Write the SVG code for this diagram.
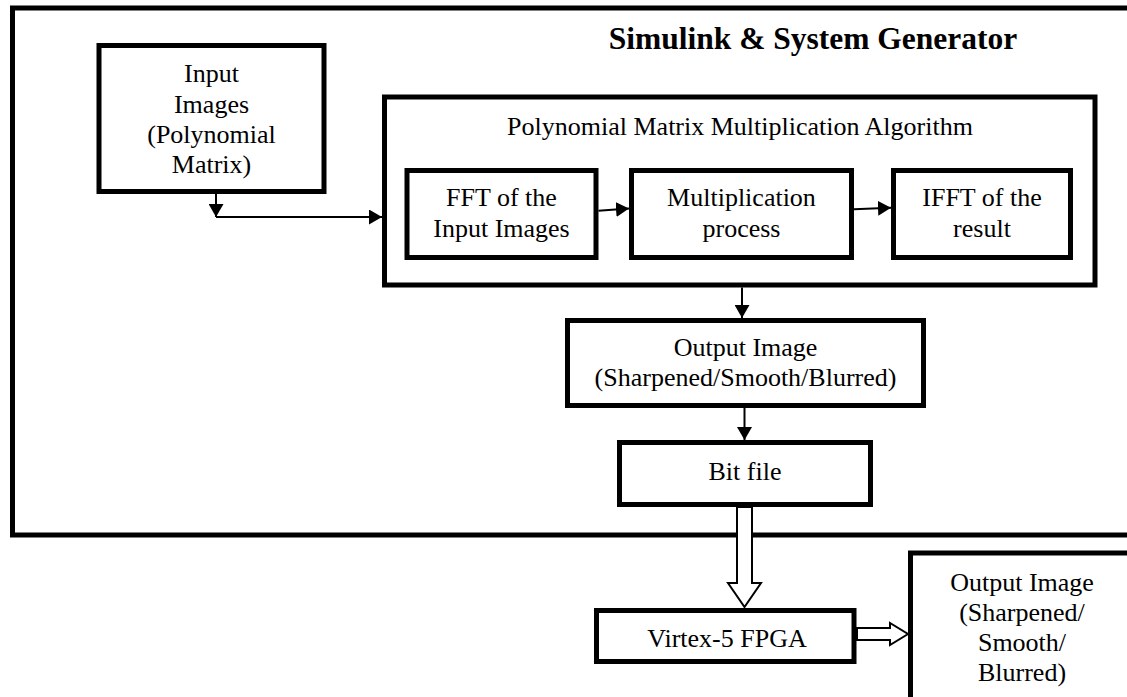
<svg xmlns="http://www.w3.org/2000/svg" width="1127" height="697" viewBox="0 0 1127 697">
<style>
.box{fill:#fff;stroke:#000;stroke-width:5}
.frame{fill:none;stroke:#000;stroke-width:5}
.t{font-family:"Liberation Serif","Times New Roman",serif;font-size:26px;fill:#000;text-anchor:middle}
.title{font-family:"Liberation Serif","Times New Roman",serif;font-size:31.5px;font-weight:bold;fill:#000;text-anchor:middle}
.ln{fill:none;stroke:#000;stroke-width:2}
.hollow{fill:#fff;stroke:#000;stroke-width:2;stroke-linejoin:miter}
</style>
<defs>
<marker id="ah" viewBox="0 0 13 15" refX="13" refY="7.5" markerWidth="13" markerHeight="15" markerUnits="userSpaceOnUse" orient="auto">
<path d="M0,0 L13,7.5 L0,15 Z" fill="#000"/>
</marker>
</defs>
<rect width="1127" height="697" fill="#fff"/>
<g id="frame">
<path class="frame" d="M1140,8 H12.5 V535 H1140"/>
<text class="title" x="813" y="49">Simulink &amp; System Generator</text>
</g>
<g id="input">
<rect class="box" x="99" y="45.5" width="225" height="146"/>
<text class="t" x="211.5" y="82">Input</text>
<text class="t" x="211.5" y="112.5">Images</text>
<text class="t" x="211.5" y="143">(Polynomial</text>
<text class="t" x="211.5" y="173">Matrix)</text>
</g>
<g id="poly">
<rect class="box" x="384.5" y="97" width="710.5" height="188"/>
<text class="t" x="740" y="135">Polynomial Matrix Multiplication Algorithm</text>
</g>
<g id="fft">
<rect class="box" x="407" y="170.5" width="189" height="87"/>
<text class="t" x="501.5" y="206">FFT of the</text>
<text class="t" x="501.5" y="237">Input Images</text>
</g>
<g id="mult">
<rect class="box" x="631.5" y="170.5" width="220" height="87"/>
<text class="t" x="741.5" y="206">Multiplication</text>
<text class="t" x="741.5" y="237">process</text>
</g>
<g id="ifft">
<rect class="box" x="893.5" y="170.5" width="177" height="87"/>
<text class="t" x="982" y="206">IFFT of the</text>
<text class="t" x="982" y="237">result</text>
</g>
<g id="output">
<rect class="box" x="567.5" y="320.5" width="356" height="85"/>
<text class="t" x="745.5" y="356">Output Image</text>
<text class="t" x="745.5" y="386">(Sharpened/Smooth/Blurred)</text>
</g>
<g id="bitfile">
<rect class="box" x="619.5" y="442.5" width="251" height="62"/>
<text class="t" x="745" y="480">Bit file</text>
</g>
<g id="virtex">
<rect class="box" x="596.5" y="610.5" width="257.5" height="51"/>
<text class="t" x="727" y="647">Virtex-5 FPGA</text>
</g>
<g id="output2">
<path class="box" d="M1140,553 H910.5 V705"/>
<text class="t" x="1022" y="591">Output Image</text>
<text class="t" x="1022" y="621">(Sharpened/</text>
<text class="t" x="1022" y="651">Smooth/</text>
<text class="t" x="1022" y="681">Blurred)</text>
</g>
<g id="connectors">
<path class="ln" d="M216,194 V217" marker-end="url(#ah)"/>
<path class="ln" d="M216,217 H382" marker-end="url(#ah)"/>
<path class="ln" d="M598.5,210.7 L629,208.5" marker-end="url(#ah)"/>
<path class="ln" d="M854,209.3 L891,207.7" marker-end="url(#ah)"/>
<path class="ln" d="M742,287.5 V318" marker-end="url(#ah)"/>
<path class="ln" d="M744.5,408 V440" marker-end="url(#ah)"/>
<polygon class="hollow" points="737,507 752,507 752,583 761,583 744.5,607 728,583 737,583"/>
<polygon class="hollow" points="857,628 890,628 890,623 908,634 890,645 890,640 857,640"/>
</g>
</svg>
